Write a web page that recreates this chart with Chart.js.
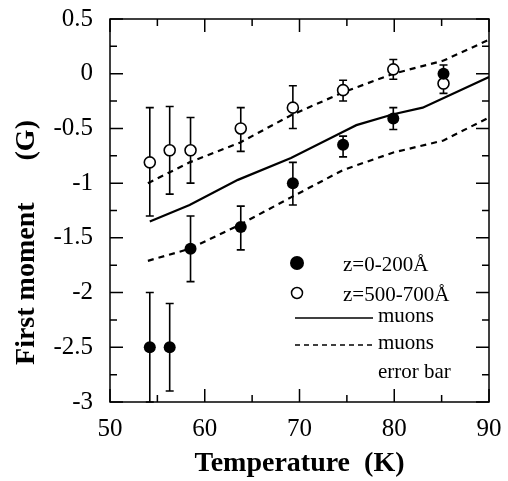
<!DOCTYPE html>
<html>
<head>
<meta charset="utf-8">
<title>First moment vs temperature</title>
<script src="https://cdn.jsdelivr.net/npm/chart.js@4.4.1/dist/chart.umd.min.js"></script>
<style>
  html, body { margin: 0; padding: 0; background: #fff; }
</style>
</head>
<body>
<canvas id="chart" width="508" height="481"></canvas>
<script>
// ---- data ----
const tempFilled    = [54.2, 56.3, 58.5, 63.8, 69.3, 74.6, 79.9, 85.2];
const momentFilled  = [-2.5, -2.5, -1.6, -1.4, -1.0, -0.65, -0.41, 0.0];
const errLowFilled  = [-3.0, -2.9, -1.9, -1.61, -1.2, -0.76, -0.51, -0.08];
const errHighFilled = [-2.0, -2.1, -1.3, -1.21, -0.81, -0.57, -0.31, 0.08];

const tempOpen    = [54.2, 56.3, 58.5, 63.8, 69.3, 74.6, 79.9, 85.2];
const momentOpen  = [-0.81, -0.7, -0.7, -0.5, -0.31, -0.15, 0.04, -0.09];
const errLowOpen  = [-1.3, -1.1, -1.0, -0.71, -0.5, -0.25, -0.05, -0.18];
const errHighOpen = [-0.31, -0.3, -0.4, -0.31, -0.11, -0.06, 0.13, 0.0];

const tempMuons   = [54.2, 58.4, 63.5, 69.1, 74.4, 76.0, 79.9, 83.0, 90];
const momentMuons = [-1.35, -1.2, -0.97, -0.77, -0.54, -0.47, -0.37, -0.31, -0.03];

const tempBand  = [54.0, 58.4, 63.7, 69.1, 74.6, 79.9, 85.2, 90];
const bandUpper = [-1.0, -0.81, -0.63, -0.38, -0.17, 0.0, 0.12, 0.31];
const bandLower = [-1.71, -1.6, -1.38, -1.13, -0.88, -0.72, -0.61, -0.40];

const xTicks      = [50, 60, 70, 80, 90];
const xMinorTicks = [55, 65, 75, 85];
const yTicks      = [0.5, 0, -0.5, -1, -1.5, -2, -2.5, -3];
const yMinorTicks = [0.25, -0.25, -0.75, -1.25, -1.75, -2.25, -2.75];

const FONT = '"Liberation Serif", "Times New Roman", serif';

function pts(xs, ys) {
    return xs.map((x, i) => ({ x: x, y: ys[i] }));
}

// error bars, drawn under the markers
const errorBars = {
    id: 'errorBars',
    beforeDatasetsDraw(chart) {
        const { ctx, scales: { x, y } } = chart;
        const sets = [
            [tempFilled, errLowFilled, errHighFilled],
            [tempOpen, errLowOpen, errHighOpen]
        ];
        ctx.save();
        ctx.strokeStyle = '#000';
        ctx.lineWidth = 1.6;
        sets.forEach(([xs, lo, hi]) => {
            xs.forEach((t, i) => {
                const px = x.getPixelForValue(t);
                const py1 = y.getPixelForValue(lo[i]);
                const py2 = y.getPixelForValue(hi[i]);
                ctx.beginPath();
                ctx.moveTo(px, py1); ctx.lineTo(px, py2);
                ctx.moveTo(px - 4, py1); ctx.lineTo(px + 4, py1);
                ctx.moveTo(px - 4, py2); ctx.lineTo(px + 4, py2);
                ctx.stroke();
            });
        });
        ctx.restore();
    }
};

// box, inward ticks, y title and in-plot legend
const frame = {
    id: 'frame',
    afterDraw(chart) {
        const { ctx, chartArea: a, scales: { x, y } } = chart;
        ctx.save();
        ctx.strokeStyle = '#000';
        ctx.lineWidth = 1.5;
        ctx.strokeRect(a.left, a.top, a.right - a.left, a.bottom - a.top);

        ctx.beginPath();
        const xt = (v, len) => {
            const px = x.getPixelForValue(v);
            ctx.moveTo(px, a.bottom); ctx.lineTo(px, a.bottom - len);
            ctx.moveTo(px, a.top); ctx.lineTo(px, a.top + len);
        };
        const yt = (v, len) => {
            const py = y.getPixelForValue(v);
            ctx.moveTo(a.left, py); ctx.lineTo(a.left + len, py);
            ctx.moveTo(a.right, py); ctx.lineTo(a.right - len, py);
        };
        xTicks.forEach(v => xt(v, 13));
        xMinorTicks.forEach(v => xt(v, 7));
        yTicks.forEach(v => yt(v, 13));
        yMinorTicks.forEach(v => yt(v, 7));
        ctx.stroke();

        // y axis title
        ctx.fillStyle = '#000';
        ctx.font = 'bold 28px ' + FONT;
        ctx.textAlign = 'center';
        ctx.textBaseline = 'middle';
        ctx.translate(27, (a.top + a.bottom) / 2 + 32);
        ctx.rotate(-Math.PI / 2);
        ctx.fillText('First moment      (G)', 0, 0);
        ctx.setTransform(1, 0, 0, 1, 0, 0);

        // legend
        ctx.font = '21px ' + FONT;
        ctx.textAlign = 'left';
        ctx.beginPath();
        ctx.arc(297, 263, 7, 0, Math.PI * 2);
        ctx.fill();
        ctx.beginPath();
        ctx.lineWidth = 1.5;
        ctx.arc(297, 293, 5.5, 0, Math.PI * 2);
        ctx.stroke();
        ctx.fillText('z=0-200\u00c5', 343, 265);
        ctx.fillText('z=500-700\u00c5', 343, 295);

        ctx.lineWidth = 1.5;
        ctx.beginPath();
        ctx.moveTo(295, 318); ctx.lineTo(373, 318);
        ctx.stroke();
        ctx.setLineDash([5, 4]);
        ctx.beginPath();
        ctx.moveTo(295, 345); ctx.lineTo(373, 345);
        ctx.stroke();
        ctx.setLineDash([]);
        ctx.fillText('muons', 378, 316);
        ctx.fillText('muons', 378, 343);
        ctx.fillText('error bar', 378, 372);
        ctx.restore();
    }
};

new Chart(document.getElementById('chart'), {
    type: 'scatter',
    data: {
        datasets: [
            {
                label: 'z=0-200\u00c5',
                data: pts(tempFilled, momentFilled),
                pointRadius: 6,
                pointBackgroundColor: '#000',
                pointBorderColor: '#000',
                pointBorderWidth: 0,
                order: 0
            },
            {
                label: 'z=500-700\u00c5',
                data: pts(tempOpen, momentOpen),
                pointRadius: 5.5,
                pointBackgroundColor: '#fff',
                pointBorderColor: '#000',
                pointBorderWidth: 1.6,
                order: 0
            },
            {
                label: 'muons',
                data: pts(tempMuons, momentMuons),
                showLine: true,
                borderColor: '#000',
                borderWidth: 2.2,
                pointRadius: 0,
                order: 1
            },
            {
                label: 'muons error bar (upper)',
                data: pts(tempBand, bandUpper),
                showLine: true,
                borderColor: '#000',
                borderWidth: 2.2,
                borderDash: [6, 5],
                pointRadius: 0,
                order: 1
            },
            {
                label: 'muons error bar (lower)',
                data: pts(tempBand, bandLower),
                showLine: true,
                borderColor: '#000',
                borderWidth: 2.2,
                borderDash: [6, 5],
                pointRadius: 0,
                order: 1
            }
        ]
    },
    options: {
        responsive: false,
        animation: false,
        events: [],
        layout: { padding: { top: 19, right: 19, left: 0, bottom: 0 } },
        plugins: {
            legend: { display: false },
            tooltip: { enabled: false }
        },
        scales: {
            x: {
                type: 'linear',
                min: 50,
                max: 90,
                grid: { display: false, drawTicks: false },
                border: { display: false },
                afterBuildTicks: s => { s.ticks = xTicks.map(v => ({ value: v })); },
                afterFit: s => {
                    s.height = 79;
                    s.paddingLeft = 0; s.paddingRight = 0;
                    s.paddingTop = 0; s.paddingBottom = 0;
                },
                ticks: {
                    color: '#000',
                    padding: 12,
                    maxRotation: 0,
                    font: { family: FONT, size: 25 }
                },
                title: {
                    display: true,
                    text: 'Temperature  (K)',
                    color: '#000',
                    padding: 0,
                    font: { family: FONT, size: 28, weight: 'bold' }
                }
            },
            y: {
                type: 'linear',
                min: -3,
                max: 0.5,
                grid: { display: false, drawTicks: false },
                border: { display: false },
                afterBuildTicks: s => { s.ticks = yTicks.map(v => ({ value: v })); },
                afterFit: s => {
                    s.width = 110;
                    s.paddingLeft = 0; s.paddingRight = 0;
                    s.paddingTop = 0; s.paddingBottom = 0;
                },
                ticks: {
                    color: '#000',
                    padding: 17,
                    font: { family: FONT, size: 25 },
                    callback: v => String(v)
                }
            }
        }
    },
    plugins: [errorBars, frame]
});
</script>
</body>
</html>
